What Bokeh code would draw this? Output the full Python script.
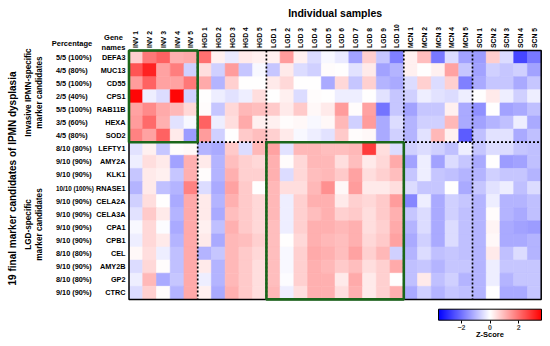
from math import pi
from bokeh.plotting import figure
from bokeh.models import (LinearColorMapper, ColorBar, FixedTicker, Label,
                          BoxAnnotation, ColumnDataSource)
from bokeh.core.properties import value
from bokeh.embed import file_html
from bokeh.resources import INLINE

# ---------------- data ----------------
samples = ["INV 1", "INV 2", "INV 3", "INV 4", "INV 5",
           "HGD 1", "HGD 2", "HGD 3", "HGD 4", "HGD 5",
           "LGD 1", "LGD 2", "LGD 3", "LGD 4", "LGD 5", "LGD 6", "LGD 7", "LGD 8", "LGD 9", "LGD 10",
           "MCN 1", "MCN 2", "MCN 3", "MCN 4", "MCN 5",
           "SCN 1", "SCN 2", "SCN 3", "SCN 4", "SCN 5"]
sample_group_sizes = [5, 5, 10, 5, 5]  # INV, HGD, LGD, MCN, SCN

genes = ["DEFA3", "MUC13", "CD55", "CPS1", "RAB11B", "HEXA", "SOD2",
         "LEFTY1", "AMY2A", "KLK1", "RNASE1", "CELA2A", "CELA3A", "CPA1", "CPB1",
         "CEL", "AMY2B", "GP2", "CTRC"]
percentages = ["5/5 (100%)", "4/5 (80%)", "5/5 (100%)", "2/5 (40%)", "5/5 (100%)", "3/5 (60%)", "4/5 (80%)",
               "8/10 (80%)", "9/10 (90%)", "9/10 (90%)", "10/10 (100%)", "9/10 (90%)", "9/10 (90%)",
               "9/10 (90%)", "9/10 (90%)", "8/10 (80%)", "9/10 (90%)", "8/10 (80%)", "9/10 (90%)"]
gene_group_sizes = [7, 12]  # invasive-specific, LGD-specific

DEFA3 = [0.7, 1.9, 2.2, 1.1, 1.2, 2.0, 0.2, -0.3, 0.3, 0.2, 0.2, 1.4, 0.2, -0.5, -0.1, -0.3, -1.3, 0.7, -0.8, -1.8, 0.2, 0.9, -1.9, -0.5, -1.3, -1.4, 0.7, -0.5, -2.6, -1.9]
MUC13 = [2.4, 3.1, 1.3, 1.8, -0.65, 0.45, -0.65, 1.4, -0.8, -0.1, -0.8, 0.3, -0.5, -0.65, 0.05, 0.0, -0.4, 0.3, -1.3, -1.05, 0.2, 0.0, 0.2, 1.3, -0.8, -1.3, -0.65, -0.8, -0.65, -1.3]
CD55 = [1.4, 2.2, 1.3, 1.3, 1.9, 1.2, -1.05, 0.65, 0.0, 0.0, 0.3, 0.55, 0.0, 0.0, -1.2, 0.55, -0.8, 0.65, -1.05, -1.2, -0.5, 0.65, -0.5, 0.65, -1.8, -1.2, -0.8, -0.8, -1.2, -0.8]
CPS1 = [3.5, -0.25, -0.5, 3.5, -0.65, 0.0, -0.25, -0.4, -0.25, 0.45, 0.0, 0.2, -0.5, 0.05, 0.0, -0.25, -0.25, 0.0, -0.4, -0.8, -0.65, -0.25, -0.4, -0.5, -0.25, 0.0, 0.3, -0.25, -0.65, -0.25]
RAB11B = [1.3, 1.65, 1.2, 1.0, 0.55, 0.05, -0.8, 0.55, 1.0, 0.9, 0.75, 0.3, 0.75, 0.1, 0.3, 1.4, 0.05, 1.3, -1.95, -0.8, -1.3, -0.8, -0.8, 0.2, -1.2, -1.55, 0.0, -1.3, -1.2, -0.9]
HEXA = [1.4, 2.1, 1.1, -0.4, -0.1, 2.2, -0.25, 0.45, 1.2, 0.2, 0.2, 0.05, 0.1, -0.1, 0.1, 1.0, -0.65, 1.4, -1.2, -0.5, -1.05, -0.65, -0.65, 1.0, -1.2, -1.3, -1.05, -0.9, -0.25, -1.2]
SOD2 = [1.75, 1.3, 2.2, 0.3, -1.4, 1.4, -0.65, 0.0, 0.75, 0.9, 0.65, 0.3, -0.1, -0.25, -0.4, 0.75, 0.05, 0.1, -1.2, -0.65, -1.05, -0.4, 1.0, 0.2, -2.3, -0.9, -0.4, -0.4, -1.2, -0.9]
LEFTY1 = [-0.4, 0.2, -0.8, 0.05, 0.1, -1.05, -1.2, 0.75, -0.5, 1.0, 1.3, -0.4, 1.0, 1.0, 0.9, 0.9, 1.0, 2.75, 0.45, -0.5, -0.65, -0.5, -0.65, -0.9, -0.25, -0.8, -0.5, -0.5, -0.8, -0.9]
AMY2A = [-0.25, 0.45, 0.3, -1.3, 1.1, 0.3, -1.05, 0.9, 0.65, 0.55, 1.1, 0.05, 0.55, 1.0, 1.0, 0.45, 0.9, 0.3, 0.55, 1.2, -1.3, -0.25, -1.3, -0.5, -0.8, -1.2, 0.0, -1.4, -1.3, -0.9]
KLK1 = [-0.8, 0.3, 0.2, -0.8, 1.1, 0.05, -1.05, 1.1, 0.65, 0.65, 1.1, -0.5, 0.55, 0.9, 1.0, 0.75, 1.3, 0.45, 0.65, 0.9, -0.8, -0.25, -0.8, -0.9, -1.05, -1.05, -0.65, -0.8, -0.8, -1.05]
RNASE1 = [-1.05, 0.3, -0.9, -1.05, 1.75, -0.5, -1.2, 1.3, 0.75, 0.0, 1.0, 0.45, 0.45, 1.0, 1.55, 0.1, 1.4, 0.3, 0.3, 0.45, -0.5, -0.8, -0.8, 0.0, -1.2, -0.8, -0.4, -0.25, -0.9, -0.5]
CELA2A = [-0.65, 0.45, 0.0, -1.2, 1.2, 0.3, -1.05, 1.1, 0.75, 0.55, 1.0, -0.25, 0.65, 1.1, 1.1, 0.3, 0.65, 0.55, 0.75, 1.4, -1.7, -0.25, -1.2, -0.65, -0.8, -1.05, -0.25, -1.05, -1.05, -0.9]
CELA3A = [-0.4, 0.75, 0.3, -1.05, 1.2, 0.3, -1.2, 0.9, 0.75, 0.55, 1.0, -0.25, 0.65, 0.9, 1.1, 0.65, 0.75, 0.45, 0.75, 1.1, -0.8, -0.5, -1.2, -0.65, -0.9, -1.05, 0.05, -1.05, -1.2, -0.9]
CPA1 = [-0.1, 0.55, -0.05, -1.2, 1.2, 0.2, -0.9, 1.1, 0.75, 0.55, 0.9, -0.25, 0.65, 1.1, 1.1, 1.0, 1.1, 0.45, 0.65, 1.2, -1.05, -0.5, -1.2, -0.5, -0.9, -1.05, 0.15, -1.2, -1.3, -1.4]
CPB1 = [-0.25, 0.55, 0.3, -1.05, 1.2, 0.3, -1.2, 1.0, 0.9, 0.65, 0.9, 0.0, 0.55, 1.1, 1.0, 0.9, 1.1, 0.55, 0.75, 1.3, -1.2, -0.65, -1.2, -0.5, -0.9, -1.05, 0.1, -1.2, -1.2, -1.05]
CEL = [0.1, 0.45, -0.25, -0.9, 1.2, -1.05, -0.8, 1.0, 0.75, 0.55, 0.9, -0.1, 0.65, 1.2, 1.1, 0.9, 1.3, 0.65, 1.0, -0.65, -1.05, -0.5, -0.9, -0.8, -0.9, -1.05, 0.3, -0.9, -0.5, -1.05]
AMY2B = [-0.5, 0.55, 0.05, -0.9, 1.2, 0.3, -1.05, 1.0, 0.75, 0.45, 0.9, -0.1, 0.65, 1.1, 1.0, 0.75, 0.9, 0.45, 0.65, 1.2, -0.9, -0.8, -1.05, -0.8, -0.8, -1.05, -0.25, -0.8, -0.8, -0.8]
GP2 = [-0.25, 1.0, -1.2, -0.8, 1.2, -0.25, -1.05, 1.0, 0.75, 0.45, 0.9, -0.05, 0.65, 1.1, 1.1, 0.3, 1.2, 0.3, 0.65, 0.0, -0.9, 0.3, -0.9, -0.65, -1.05, -1.05, -0.25, -1.05, -0.8, -0.8]
CTRC = [-0.5, 0.65, 0.05, -1.05, 1.2, 0.2, -1.2, 1.1, 0.75, 0.45, 1.0, -0.25, 0.45, 1.1, 1.1, 0.45, 1.1, 0.3, 0.65, 1.1, -1.2, -0.65, -1.05, -0.8, -0.9, -1.05, 0.0, -1.2, -1.2, -0.8]

z_rows = [DEFA3, MUC13, CD55, CPS1, RAB11B, HEXA, SOD2, LEFTY1, AMY2A, KLK1, RNASE1,
          CELA2A, CELA3A, CPA1, CPB1, CEL, AMY2B, GP2, CTRC]
colorbar_ticks = [-2, 0, 2]
z_low, z_high = -3.6, 3.6

# ---------------- styling / layout ----------------
FONT = "Liberation Sans"
GREEN = "#1a661a"
W, H = 542, 338
CELL_W, CELL_H = 13.74, 13.1          # px per column / row
LEFT_PX, TOP_PX = 128.5, 50.0         # heatmap origin on the canvas

palette = []
for i in range(256):
    t = i / 255 * 2 - 1
    if t < 0:
        c = int(round(255 * (1 + t)))
        palette.append("#%02x%02x%02x" % (c, c, 255))
    else:
        c = int(round(255 * (1 - t)))
        palette.append("#%02x%02x%02x" % (255, c, c))
mapper = LinearColorMapper(palette=palette, low=z_low, high=z_high)

n_cols, n_rows = len(samples), len(genes)

def px_x(px):  # canvas px -> column units
    return -0.5 + (px - LEFT_PX) / CELL_W

def px_y(py):  # canvas px -> row units
    return -0.5 + (py - TOP_PX) / CELL_H

p = figure(width=W, height=H, x_range=(px_x(0), px_x(W)), y_range=(px_y(H), px_y(0)),
           output_backend="svg", toolbar_location=None, x_axis_type=None, y_axis_type=None,
           min_border=0, outline_line_color=None)
p.grid.visible = False

xs, ys, zs = [], [], []
for r, row in enumerate(z_rows):
    for c, v in enumerate(row):
        xs.append(c); ys.append(r); zs.append(v)
src = ColumnDataSource(dict(x=xs, y=ys, z=zs))
p.rect(x="x", y="y", width=1, height=1, source=src,
       fill_color={"field": "z", "transform": mapper},
       line_color={"field": "z", "transform": mapper}, line_width=0.6)

# sample labels (top), gene names and percentages (left)
p.text(x=list(range(n_cols)), y=[px_y(TOP_PX - 2.5)] * n_cols, text=samples, angle=pi / 2,
       text_align="left", text_baseline="middle", text_font=value(FONT),
       text_font_style="bold", text_font_size="6.8px", text_color="black")
p.text(x=[px_x(LEFT_PX - 3.5)] * n_rows, y=list(range(n_rows)), text=genes,
       text_align="right", text_baseline="middle", text_font=value(FONT),
       text_font_style="bold", text_font_size="7.3px", text_color="black")
pct_sizes = ["7.3px" if len(s) <= 10 else "6.3px" for s in percentages]
p.text(x=[px_x(55.5)] * n_rows, y=list(range(n_rows)), text=percentages,
       text_align="left", text_baseline="middle", text_font=value(FONT),
       text_font_style="bold", text_font_size=pct_sizes, text_color="black")

# group separators (dotted)
vx, b = [], 0
for s in sample_group_sizes[:-1]:
    b += s
    vx.append(b - 0.5)
p.segment(x0=vx, y0=[-0.5] * len(vx), x1=vx, y1=[n_rows - 0.5] * len(vx),
          line_color="black", line_dash="2 2", line_width=1.7)
hy, b = [], 0
for s in gene_group_sizes[:-1]:
    b += s
    hy.append(b - 0.5)
p.segment(x0=[-0.5] * len(hy), y0=hy, x1=[n_cols - 0.5] * len(hy), y1=hy,
          line_color="black", line_dash="2 2", line_width=1.7)

# heatmap outline
p.add_layout(BoxAnnotation(left=-0.5, right=n_cols - 0.5, top=-0.5, bottom=n_rows - 0.5,
                           fill_alpha=0, line_color="black", line_alpha=1, line_width=1.5))

# highlighted blocks (green)
inv_end = sample_group_sizes[0]
lgd_start = sum(sample_group_sizes[:2])
lgd_end = lgd_start + sample_group_sizes[2]
g1 = gene_group_sizes[0]
p.add_layout(BoxAnnotation(left=-0.5, right=inv_end - 0.5, top=-0.5, bottom=g1 - 0.5,
                           fill_alpha=0, line_color=GREEN, line_alpha=1, line_width=2.6))
p.add_layout(BoxAnnotation(left=lgd_start - 0.5, right=lgd_end - 0.5, top=g1 - 0.5, bottom=n_rows - 0.5,
                           fill_alpha=0, line_color=GREEN, line_alpha=1, line_width=2.6))

def lab(px, py, text, size, angle=0, align="center"):
    p.add_layout(Label(x=px_x(px), y=px_y(py), text=text, angle=angle, text_align=align,
                       text_baseline="middle", text_font=FONT, text_font_style="bold",
                       text_font_size=size, text_color="black"))

lab(334.6, 12.5, "Individual samples", "10.5px")
lab(113, 42, "Gene\nnames", "7.5px")
lab(71.5, 43, "Percentage", "7.5px")
lab(12, 178, "19 final marker candidates of IPMN dysplasia", "10px", angle=pi / 2)
lab(33.5, 92, "Invasive IPMN-specific\nmarker candidates", "8.2px", angle=pi / 2)
lab(33.5, 224, "LGD-specific\nmarker candidates", "8.2px", angle=pi / 2)
lab(489.4, 334, "Z-Score", "7.5px")

cb = ColorBar(color_mapper=mapper, orientation="horizontal", width=103, height=11,
              location=(438, H - 332.7), padding=0, ticker=FixedTicker(ticks=colorbar_ticks),
              major_label_text_font=FONT, major_label_text_font_style="bold",
              major_label_text_font_size="7px", major_tick_in=0, major_tick_out=3,
              major_tick_line_color="black", bar_line_color="black", bar_line_width=1,
              label_standoff=2, background_fill_alpha=0, border_line_color=None)
p.add_layout(cb, "center")

open("out.html", "w").write(file_html(p, INLINE))
